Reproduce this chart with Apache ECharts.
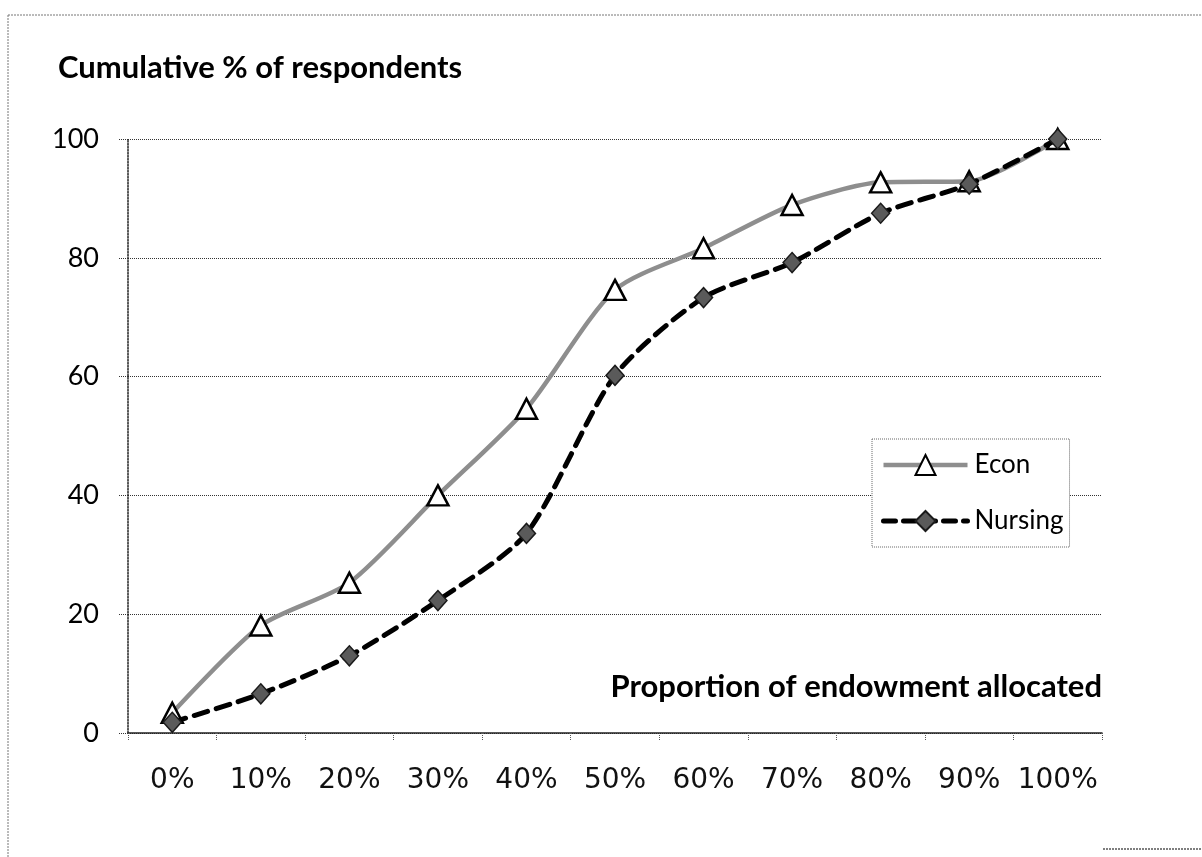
<!DOCTYPE html>
<html>
<head>
<meta charset="utf-8">
<script src="https://cdn.jsdelivr.net/npm/echarts@6/dist/echarts.min.js"></script>
<style>
html,body{margin:0;padding:0;background:#fff;}
#chart{width:1202px;height:857px;}
</style>
</head>
<body>
<div id="chart"></div>
<script>
var categories = ['0%','10%','20%','30%','40%','50%','60%','70%','80%','90%','100%'];
var econ = [3.4, 18.1, 25.3, 40.0, 54.6, 74.6, 81.6, 88.9, 92.7, 92.9, 100];
var nursing = [1.8, 6.6, 13.0, 22.3, 33.6, 60.2, 73.3, 79.2, 87.5, 92.4, 100];
var yTicks = [0, 20, 40, 60, 80, 100];

var chart = echarts.init(document.getElementById('chart'), null, {renderer: 'canvas'});
var gridColor = '#333';
chart.setOption({
  animation: false,
  backgroundColor: '#fff',
  title: [
    {
      text: 'Cumulative % of respondents',
      left: 58, top: 52, padding: 0,
      textStyle: {fontFamily: 'Lato', fontWeight: 'bold', fontSize: 31, color: '#000'}
    },
    {
      text: 'Proportion of endowment allocated',
      right: 100, top: 671, padding: 0,
      textStyle: {fontFamily: 'Lato', fontWeight: 'bold', fontSize: 31, color: '#000'}
    }
  ],
  legend: {
    orient: 'vertical',
    left: 872, top: 439,
    padding: [13, 6, 13, 9],
    itemGap: 30,
    itemWidth: 84,
    itemHeight: 25,
    backgroundColor: '#fff',
    borderColor: '#666',
    borderWidth: 1,
    borderType: 'dotted',
    textStyle: {fontFamily: 'Lato', fontSize: 26, color: '#000', padding: [0, 0, 0, 2]},
    data: [
      {name: 'Econ', lineStyle: {width: 4.5, color: '#8e8e8e'}},
      {name: 'Nursing', lineStyle: {width: 5, color: '#000', type: [12, 8]}}
    ]
  },
  grid: {left: 128, right: 100, top: 139, bottom: 124, containLabel: false},
  xAxis: {
    type: 'category',
    data: categories,
    boundaryGap: true,
    axisLine: {show: true, lineStyle: {color: '#222', width: 1.5}},
    axisTick: {show: true, length: 7, lineStyle: {color: '#555', type: 'dotted'}},
    axisLabel: {interval: 0, margin: 34, fontFamily: 'DejaVu Sans', fontSize: 28, color: '#111'},
    splitLine: {show: false}
  },
  yAxis: {
    type: 'value',
    min: 0, max: 100, interval: 20,
    axisLine: {show: true, lineStyle: {color: '#222', width: 1.5, type: 'dotted'}},
    axisTick: {show: true, length: 9, lineStyle: {color: '#333', type: 'dotted'}},
    axisLabel: {margin: 29, fontFamily: 'Lato', fontSize: 27, color: '#000',
      formatter: function (v) { return yTicks.indexOf(v) >= 0 ? String(v) : ''; }},
    splitLine: {show: true, lineStyle: {color: gridColor, width: 1, type: 'dotted'}}
  },
  series: [
    {
      name: 'Econ',
      type: 'line',
      data: econ,
      smooth: 0.25,
      symbol: 'triangle',
      symbolSize: [21, 20],
      itemStyle: {color: '#fff', borderColor: '#000', borderWidth: 2.5},
      lineStyle: {color: '#8e8e8e', width: 4.5},
      z: 2
    },
    {
      name: 'Nursing',
      type: 'line',
      data: nursing,
      smooth: 0.25,
      symbol: 'diamond',
      symbolSize: [18, 20],
      itemStyle: {color: '#5a5a5a', borderColor: '#1a1a1a', borderWidth: 1.5},
      lineStyle: {color: '#000', width: 5, type: [14, 9], cap: 'round'},
      z: 3
    }
  ],
  graphic: [
    {type: 'line', shape: {x1: 8, y1: 15, x2: 1202, y2: 15}, style: {stroke: '#777', lineWidth: 1, lineDash: [2, 1]}, silent: true},
    {type: 'line', shape: {x1: 8, y1: 15, x2: 8, y2: 857}, style: {stroke: '#777', lineWidth: 1, lineDash: [2, 1]}, silent: true},
    {type: 'line', shape: {x1: 1103, y1: 849, x2: 1202, y2: 849}, style: {stroke: '#555', lineWidth: 1.5, lineDash: [2, 1]}, silent: true}
  ]
});
</script>
</body>
</html>
